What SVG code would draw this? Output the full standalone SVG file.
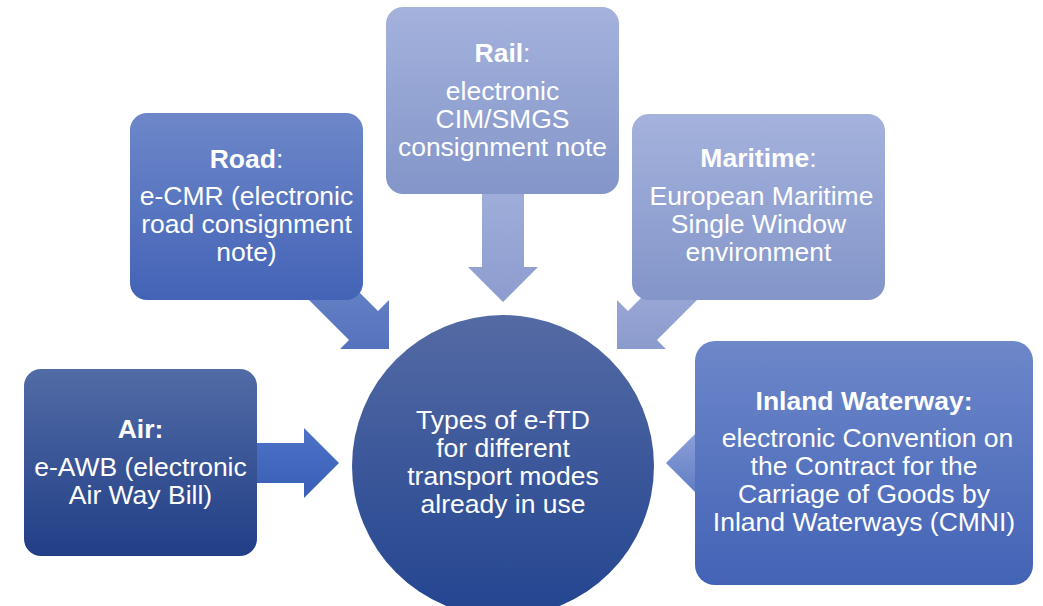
<svg xmlns="http://www.w3.org/2000/svg" width="1043" height="606" viewBox="0 0 1043 606">
<defs>
<linearGradient id="gAir" x1="0" y1="0" x2="0" y2="1"><stop offset="0" stop-color="#516ba5"/><stop offset="1" stop-color="#223f87"/></linearGradient>
<linearGradient id="gMid" x1="0" y1="0" x2="0" y2="1"><stop offset="0" stop-color="#6d87c9"/><stop offset="1" stop-color="#4363b6"/></linearGradient>
<linearGradient id="gLight" x1="0" y1="0" x2="0" y2="1"><stop offset="0" stop-color="#a4b2dc"/><stop offset="1" stop-color="#8395c9"/></linearGradient>
<linearGradient id="gCircle" x1="0" y1="0" x2="0" y2="1"><stop offset="0" stop-color="#546aa4"/><stop offset="1" stop-color="#234590"/></linearGradient>
<linearGradient id="aAir" x1="0" y1="0" x2="0" y2="1"><stop offset="0" stop-color="#4d73c7"/><stop offset="1" stop-color="#385fb5"/></linearGradient>
<linearGradient id="aRoad" x1="0" y1="0" x2="0" y2="1"><stop offset="0" stop-color="#6d87c9"/><stop offset="1" stop-color="#5573bd"/></linearGradient>
<linearGradient id="aRail" x1="0" y1="0" x2="0" y2="1"><stop offset="0" stop-color="#a6b4de"/><stop offset="1" stop-color="#8c9cce"/></linearGradient>
<linearGradient id="aMar" x1="0" y1="0" x2="0" y2="1"><stop offset="0" stop-color="#a2b0db"/><stop offset="1" stop-color="#8b9bcd"/></linearGradient>
<linearGradient id="aInl" x1="0" y1="0" x2="0" y2="1"><stop offset="0" stop-color="#8fa3d9"/><stop offset="1" stop-color="#5d7ac2"/></linearGradient>
</defs>
<style>
text{font-family:"Liberation Sans",Arial,sans-serif;font-size:26.5px;fill:#ffffff;text-anchor:middle}
.b{font-weight:bold}
</style>
<g id="connectors">
<polygon points="240,443 304,443 304,428 339,463 304,498 304,483 240,483" fill="url(#aAir)"/>
<polygon points="290,281 349,340 340,349 389,349 389,300 378,311 319,252" fill="url(#aRoad)"/>
<polygon points="482,150 524,150 524,267 538,267 503,302 468,267 482,267" fill="url(#aRail)"/>
<polygon points="716,281 657,340 666,349 617,349 617,300 628,311 687,252" fill="url(#aMar)"/>
<polygon points="666,463 701,428 701,443 760,443 760,483 701,483 701,498" fill="url(#aInl)"/>
</g>
<g id="node-air">
<rect x="24" y="369" width="233" height="187" rx="17" fill="url(#gAir)"/>
<text x="140.5" y="438" class="b">Air:</text>
<text x="140.5" y="476">e-AWB (electronic</text>
<text x="140.5" y="504">Air Way Bill)</text>
</g>
<g id="node-road">
<rect x="130" y="113" width="233" height="187" rx="17" fill="url(#gMid)"/>
<text x="246.5" y="168"><tspan class="b">Road</tspan>:</text>
<text x="246.5" y="205">e-CMR (electronic</text>
<text x="246.5" y="233">road consignment</text>
<text x="246.5" y="261">note)</text>
</g>
<g id="node-rail">
<rect x="386" y="7" width="233" height="187" rx="17" fill="url(#gLight)"/>
<text x="502.5" y="62"><tspan class="b">Rail</tspan>:</text>
<text x="502.5" y="100">electronic</text>
<text x="502.5" y="128">CIM/SMGS</text>
<text x="502.5" y="156">consignment note</text>
</g>
<g id="node-maritime">
<rect x="632" y="114" width="253" height="186" rx="17" fill="url(#gLight)"/>
<text x="758.5" y="167"><tspan class="b">Maritime</tspan>:</text>
<text x="761.5" y="205">European Maritime</text>
<text x="758.5" y="233">Single Window</text>
<text x="758.5" y="261">environment</text>
</g>
<g id="node-inland">
<rect x="695" y="341" width="338" height="244" rx="20" fill="url(#gMid)"/>
<text x="864" y="410" class="b">Inland Waterway:</text>
<text x="867.5" y="447">electronic Convention on</text>
<text x="864" y="475">the Contract for the</text>
<text x="864" y="503">Carriage of Goods by</text>
<text x="864" y="531">Inland Waterways (CMNI)</text>
</g>
<g id="node-center">
<circle cx="503" cy="466" r="151" fill="url(#gCircle)"/>
<text x="503" y="429">Types of e-fTD</text>
<text x="503" y="457">for different</text>
<text x="503" y="485">transport modes</text>
<text x="503" y="513">already in use</text>
</g>
</svg>
